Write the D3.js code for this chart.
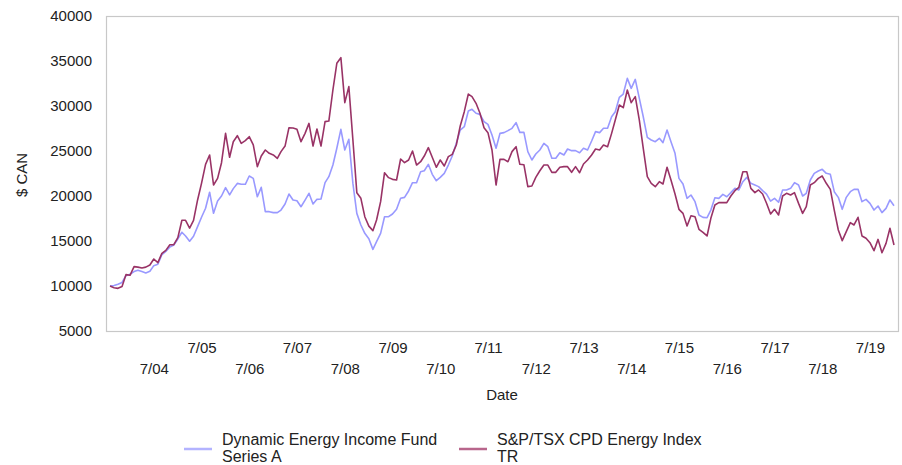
<!DOCTYPE html>
<html>
<head>
<meta charset="utf-8">
<script src="https://cdn.jsdelivr.net/npm/d3@7"></script>
<style>
  html, body { margin: 0; padding: 0; background: #fff; }
  svg { display: block; font-family: "Liberation Sans", Arial, sans-serif; }
</style>
</head>
<body>
<svg id="chart" width="902" height="465"></svg>
<script>
// Growth of $10,000, monthly, Aug 2003 – Jan 2020
const firstMonth = "2003-08";
const lastMonth = "2020-01";

const fundName = "Dynamic Energy Income Fund Series A";
const indexName = "S&P/TSX CPD Energy Index TR";

const fundValues = [
  10000,10050,10200,10400,11150,11300,11600,11750,11600,11450,11630,12260,12410,13480,13850,14330,
  14560,15230,15970,15560,14970,15530,16600,17640,18640,20420,18080,19450,20000,20930,20120,20820,
  21400,21300,21300,22220,21960,19920,20960,18260,18260,18150,18150,18440,19110,20220,19550,19480,
  18810,19550,20300,19110,19630,19670,21480,22150,23440,25300,27410,25110,26300,21400,18070,16780,
  15850,15250,14070,14920,15850,17700,17700,18000,18520,19740,19850,20560,21480,21480,22700,22810,
  23520,22410,21700,22070,22520,23440,24440,25850,27330,27700,29440,29630,29190,29070,28260,27960,
  26780,25300,26960,27040,27260,27520,28150,27070,27070,24930,24000,24670,25110,25850,25480,24190,
  24190,24810,24560,25220,25040,25040,24810,25300,25110,26110,27150,27040,27520,27520,28810,29370,
  30960,31330,33070,31960,32960,30850,28810,26520,26220,26040,26410,25930,27330,26040,24740,21960,
  21330,19740,20110,19370,17890,17630,17590,18440,19810,19740,20180,19920,20370,20850,20670,21590,
  22070,21410,21220,21040,20590,20200,19440,19740,19300,20670,20670,20850,21480,21220,20000,20300,
  21780,22520,22780,22960,22520,22410,20480,19850,18520,19850,20480,20740,20740,19370,19630,19180,
  18440,18890,18150,18630,19560,18920
];

const indexValues = [
  10000,9810,9740,9950,11260,11190,12150,12100,12000,12100,12330,13000,12590,13630,13960,14590,
  14600,15370,17300,17300,16440,17300,19560,21410,23520,24560,21220,21960,23700,26970,24300,26030,
  26700,25850,26150,26590,25670,23260,24440,25110,24740,24560,24180,24930,25550,27590,27550,27410,
  26040,26960,28070,25550,27440,25550,28260,28330,31780,34740,35370,30370,32150,26220,20370,19740,
  17700,16650,16150,17330,19370,22590,22040,21850,21780,24110,23700,24000,25000,23440,23810,24440,
  25370,24300,23190,24000,23330,24370,24630,25670,27780,29370,31330,31040,30300,29190,27590,27040,
  25110,21220,24070,24070,23810,24930,25480,23520,23480,21040,21110,22070,22810,23440,23440,22630,
  22630,23190,23260,23260,22630,23260,22590,23560,24000,24560,25220,25110,25670,25480,26960,28440,
  30110,29810,31780,30370,31040,28440,25300,22150,21410,21040,21590,21330,23190,21780,20220,18520,
  18070,16670,17810,17700,16300,15960,15560,17520,19000,19260,19260,19260,20000,20590,20960,22700,
  22700,20850,20370,20670,20220,19200,18000,18520,17890,20000,20300,20110,20370,19180,18070,18810,
  21220,21480,21960,22220,21410,20740,18440,16220,15040,16040,17040,16780,17630,15560,15300,14810,
  13920,15180,13700,14740,16410,14560
];

const xTickLabels = ["7/04","7/05","7/06","7/07","7/08","7/09","7/10","7/11",
                     "7/12","7/13","7/14","7/15","7/16","7/17","7/18","7/19"];
const yTickValues = [5000,10000,15000,20000,25000,30000,35000,40000];

const parseMonth = d3.timeParse("%Y-%m");
const parseTick = d3.timeParse("%m/%y");
const months = d3.timeMonth.range(parseMonth(firstMonth), d3.timeMonth.offset(parseMonth(lastMonth), 1));

const svg = d3.select("#chart");
const plot = { left: 106, right: 898, top: 16, bottom: 331 };

const x = d3.scaleTime()
  .domain([months[0], months[months.length - 1]])
  .range([110, 894]);
const y = d3.scaleLinear()
  .domain([5000, 40000])
  .range([plot.bottom, plot.top]);

// plot frame
svg.append("rect")
  .attr("x", plot.left + 0.5).attr("y", plot.top + 0.5)
  .attr("width", plot.right - plot.left).attr("height", plot.bottom - plot.top)
  .attr("fill", "none").attr("stroke", "#c8c8c8").attr("stroke-width", 1.2);

// y axis
const yAxis = svg.append("g")
  .attr("transform", "translate(92,0)")
  .call(d3.axisLeft(y).tickValues(yTickValues).tickSize(0).tickPadding(0).tickFormat(d3.format("d")));
yAxis.select(".domain").remove();
yAxis.selectAll("text")
  .attr("font-size", 15).attr("fill", "#222").attr("font-family", "Liberation Sans, Arial, sans-serif");

svg.append("text")
  .attr("transform", "translate(27,175) rotate(-90)")
  .attr("text-anchor", "middle")
  .attr("font-size", 15).attr("fill", "#222")
  .text("$ CAN");

// x axis: labels alternate between two rows
const xAxis = svg.append("g")
  .attr("transform", `translate(0,${plot.bottom})`)
  .call(d3.axisBottom(x)
    .tickValues(xTickLabels.map(parseTick))
    .tickSize(0).tickPadding(0)
    .tickFormat((d, i) => xTickLabels[i]));
xAxis.select(".domain").remove();
xAxis.selectAll(".tick text")
  .attr("font-size", 15).attr("fill", "#222").attr("font-family", "Liberation Sans, Arial, sans-serif")
  .attr("dy", null)
  .attr("y", (d, i) => i % 2 === 1 ? 22 : 43);

svg.append("text")
  .attr("x", 502).attr("y", 400)
  .attr("text-anchor", "middle")
  .attr("font-size", 15).attr("fill", "#222")
  .text("Date");

// series lines
const line = d3.line()
  .x((d, i) => x(months[i]))
  .y(d => y(d));

svg.append("path")
  .datum(fundValues)
  .attr("fill", "none").attr("stroke", "#9999ff").attr("stroke-width", 1.6)
  .attr("stroke-linejoin", "round")
  .attr("d", line);

svg.append("path")
  .datum(indexValues)
  .attr("fill", "none").attr("stroke", "#993366").attr("stroke-width", 1.6)
  .attr("stroke-linejoin", "round")
  .attr("d", line);

// legend
const legendItems = [
  { lines: ["Dynamic Energy Income Fund", "Series A"], color: "#b3b3ff", x: 184 },
  { lines: ["S&P/TSX CPD Energy Index", "TR"], color: "#b8668c", x: 459 }
];
const legend = svg.append("g");
legendItems.forEach(item => {
  const g = legend.append("g").attr("transform", `translate(${item.x},0)`);
  g.append("line")
    .attr("x1", 0).attr("x2", 28).attr("y1", 449).attr("y2", 449)
    .attr("stroke", item.color).attr("stroke-width", 2.5);
  item.lines.forEach((t, k) => {
    g.append("text")
      .attr("x", 38).attr("y", 445 + k * 17)
      .attr("font-size", 16).attr("fill", "#222")
      .text(t);
  });
});
</script>
</body>
</html>
